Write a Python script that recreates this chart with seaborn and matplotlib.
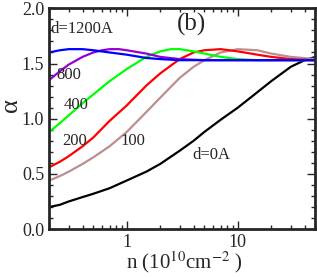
import numpy as np
import pandas as pd
import seaborn as sns
import matplotlib.pyplot as plt
from matplotlib.ticker import MultipleLocator, LogLocator, NullFormatter, FixedLocator, FixedFormatter

# values, n in 10^10 cm^-2
n_d0 = [0.2, 0.25, 0.3, 0.4, 0.5, 0.7, 1, 1.5, 2, 3, 4, 5, 7, 10, 15, 20, 30, 40, 50]
a_d0 = [0.20, 0.22, 0.25, 0.29, 0.32, 0.37, 0.44, 0.52, 0.59, 0.71, 0.80, 0.88, 0.99, 1.10, 1.24, 1.34, 1.47, 1.53, 1.56]

n_d100 = [0.2, 0.25, 0.3, 0.4, 0.5, 0.7, 1, 1.5, 2, 3, 4, 5, 7, 10, 15, 20, 30, 50]
a_d100 = [0.44, 0.48, 0.52, 0.59, 0.65, 0.75, 0.88, 1.06, 1.19, 1.37, 1.47, 1.53, 1.60, 1.63, 1.62, 1.59, 1.56, 1.54]

n_d200 = [0.2, 0.25, 0.3, 0.4, 0.5, 0.7, 1, 1.5, 2, 3, 4, 5, 7, 10, 15, 20, 30, 50]
a_d200 = [0.56, 0.61, 0.66, 0.75, 0.83, 0.98, 1.12, 1.30, 1.41, 1.54, 1.60, 1.62, 1.63, 1.61, 1.58, 1.56, 1.54, 1.53]

n_d400 = [0.2, 0.25, 0.3, 0.4, 0.5, 0.7, 1, 1.5, 2, 2.5, 3, 4, 5, 7, 10, 15, 20, 50]
a_d400 = [0.88, 0.96, 1.03, 1.14, 1.22, 1.34, 1.45, 1.56, 1.61, 1.63, 1.63, 1.61, 1.59, 1.56, 1.54, 1.53, 1.53, 1.53]

n_d800 = [0.2, 0.25, 0.3, 0.4, 0.5, 0.6, 0.7, 0.85, 1, 1.5, 2, 3, 5, 10, 50]
a_d800 = [1.35, 1.43, 1.49, 1.56, 1.60, 1.62, 1.63, 1.63, 1.62, 1.59, 1.56, 1.54, 1.53, 1.53, 1.53]

n_d1200 = [0.2, 0.25, 0.3, 0.35, 0.4, 0.5, 0.7, 1, 1.5, 2, 3, 5, 50]
a_d1200 = [1.60, 1.62, 1.63, 1.63, 1.63, 1.62, 1.60, 1.58, 1.55, 1.54, 1.53, 1.53, 1.53]

series = [("0", n_d0, a_d0), ("100", n_d100, a_d100), ("200", n_d200, a_d200),
          ("400", n_d400, a_d400), ("800", n_d800, a_d800), ("1200", n_d1200, a_d1200)]
df = pd.concat([pd.DataFrame({"n": n, "alpha": a, "d": d}) for d, n, a in series])

colors = {"0": "black", "100": "#bc8f8f", "200": "red", "400": "#00ff00",
          "800": "#9400d3", "1200": "blue"}

sns.set_style("ticks")
plt.rcParams["font.family"] = ["Liberation Serif", "DejaVu Serif"]
plt.rcParams["mathtext.fontset"] = "stix"

fig = plt.figure(figsize=(3.17, 2.77), dpi=100)
ax = fig.add_axes([0.155, 0.173, 0.84, 0.797])

sns.lineplot(data=df, x="n", y="alpha", hue="d", palette=colors, sort=False,
             estimator=None, linewidth=1.6, legend=False, ax=ax)

ax.set_xscale("log")
ax.set_xlim(0.2, 50)
ax.set_ylim(0, 2.0)
ax.yaxis.set_major_locator(MultipleLocator(0.5))
ax.yaxis.set_minor_locator(MultipleLocator(0.1))
ax.yaxis.set_major_formatter(plt.FormatStrFormatter("%.1f"))
ax.xaxis.set_major_locator(FixedLocator([1, 10]))
ax.xaxis.set_major_formatter(FixedFormatter(["1", "10"]))
ax.xaxis.set_minor_locator(LogLocator(base=10, subs=np.arange(2, 10), numticks=20))
ax.xaxis.set_minor_formatter(NullFormatter())

ax.tick_params(which="both", direction="in", top=True, right=True, labelsize=13, width=1)
ax.tick_params(which="major", length=6)
ax.tick_params(which="minor", length=3)
for s in ax.spines.values():
    s.set_linewidth(2)

ax.set_xlabel("")
ax.set_ylabel("")
fig.text(0.58, 0.052, "n (10$^{10}$cm$^{-2}$ )", fontsize=15, ha="center", va="center")
fig.text(0.035, 0.62, "α", fontsize=19, ha="center", va="center", rotation=90)

ax.text(3.85, 1.85, "(b)", fontsize=18, ha="center", va="center")
ax.text(0.205, 1.81, "d=1200A", fontsize=12, ha="left", va="center")
ax.text(0.23, 1.40, "800", fontsize=12, ha="left", va="center")
ax.text(0.27, 1.12, "400", fontsize=12, ha="left", va="center")
ax.text(0.265, 0.80, "200", fontsize=12, ha="left", va="center")
ax.text(0.87, 0.80, "100", fontsize=12, ha="left", va="center")
ax.text(3.9, 0.67, "d=0A", fontsize=12, ha="left", va="center")

fig.savefig("out.png", dpi=100)
